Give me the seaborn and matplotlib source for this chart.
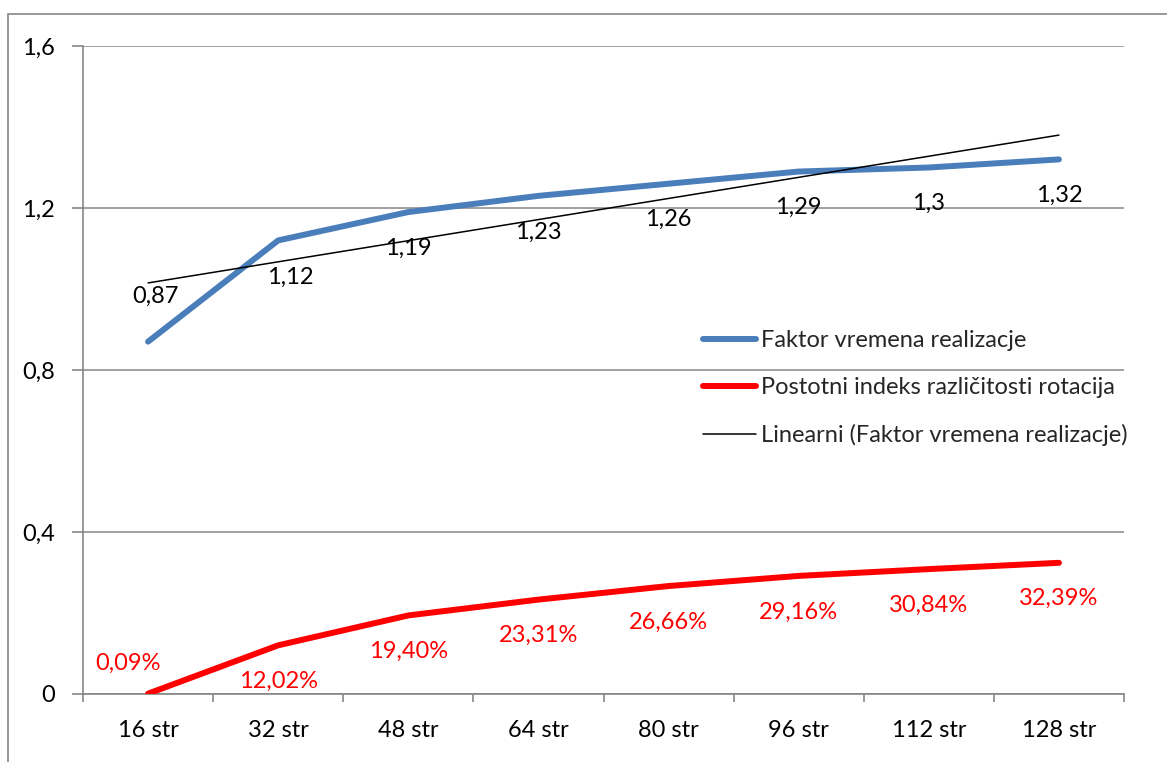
import numpy as np
import pandas as pd
import matplotlib
matplotlib.use("Agg")
import matplotlib.pyplot as plt
import seaborn as sns
from matplotlib.patches import Rectangle
from matplotlib.lines import Line2D

categories = ["16 str", "32 str", "48 str", "64 str", "80 str", "96 str", "112 str", "128 str"]
faktor = [0.87, 1.12, 1.19, 1.23, 1.26, 1.29, 1.30, 1.32]
faktor_labels = ["0,87", "1,12", "1,19", "1,23", "1,26", "1,29", "1,3", "1,32"]
indeks = [0.0009, 0.1202, 0.1940, 0.2331, 0.2666, 0.2916, 0.3084, 0.3239]
indeks_labels = ["0,09%", "12,02%", "19,40%", "23,31%", "26,66%", "29,16%", "30,84%", "32,39%"]
y_ticks = [0, 0.4, 0.8, 1.2, 1.6]
y_tick_labels = ["0", "0,4", "0,8", "1,2", "1,6"]
legend_labels = ["Faktor vremena realizacje", "Postotni indeks različitosti rotacija",
                 "Linearni (Faktor vremena realizacje)"]

sns.set_theme(style="white")
plt.rcParams['font.family'] = ['Lato', 'DejaVu Sans']

BLUE = "#4A7EBB"
RED = "#FF0000"
GRAY = "#868686"
FS = 17

fig = plt.figure(figsize=(11.67, 7.62), dpi=100)
fig.patch.set_facecolor("white")
W, H = 1167, 762
ax = fig.add_axes([83 / W, 1 - 694 / H, (1124 - 83) / W, (694 - 46) / H])

x = np.arange(len(categories))
df = pd.DataFrame({"x": x, "faktor": faktor, "indeks": indeks})

sns.lineplot(data=df, x="x", y="faktor", ax=ax, color=BLUE, linewidth=4.3,
             solid_capstyle="round", zorder=3)
sns.lineplot(data=df, x="x", y="indeks", ax=ax, color=RED, linewidth=4.3,
             solid_capstyle="round", zorder=3)

# Linear trendline
coef = np.polyfit(x + 1, faktor, 1)
trend = np.polyval(coef, x + 1)
sns.lineplot(x=[x[0], x[-1]], y=[trend[0], trend[-1]], ax=ax, color="black",
             linewidth=1.1, zorder=4)

# data labels
for i, (v, lab) in enumerate(zip(faktor, faktor_labels)):
    if i == 0:
        off = (7, 45)
    elif i == 1:
        off = (12, -37)
    else:
        off = (0, -36)
    ax.annotate(lab, (x[i], v), xytext=off, textcoords="offset pixels",
                ha="center", va="center", fontsize=FS, color="black", zorder=5)
for i, (v, lab) in enumerate(zip(indeks, indeks_labels)):
    off = (-20, 30) if i == 0 else (0, -36)
    ax.annotate(lab, (x[i], v), xytext=off, textcoords="offset pixels",
                ha="center", va="center", fontsize=FS, color=RED, zorder=5)

ax.set_xlim(-0.5, len(categories) - 0.5)
ax.set_ylim(0, 1.6)
ax.set_yticks(y_ticks)
ax.set_yticklabels(y_tick_labels, fontsize=FS, color="black")
ax.set_xticks(x)
ax.set_xticklabels(categories, fontsize=FS, color="black")
ax.set_xticks(np.arange(-0.5, len(categories), 1.0), minor=True)
ax.tick_params(axis="x", which="major", length=0, pad=19)
ax.tick_params(axis="x", which="minor", length=6, width=1.2, color=GRAY, direction="out", bottom=True)
ax.tick_params(axis="y", which="major", length=8, width=1.2, color=GRAY, direction="out", left=True, pad=12)
ax.set_xlabel("")
ax.set_ylabel("")
ax.grid(axis="y", color=GRAY, linewidth=1.1, zorder=0)
ax.set_axisbelow(True)
for s in ["top", "right"]:
    ax.spines[s].set_visible(False)
for s in ["left", "bottom"]:
    ax.spines[s].set_color(GRAY)
    ax.spines[s].set_linewidth(1.2)

handles = [Line2D([], [], color=BLUE, linewidth=4.3, solid_capstyle="round"),
           Line2D([], [], color=RED, linewidth=4.3, solid_capstyle="round"),
           Line2D([], [], color="black", linewidth=1.1)]
fig.legend(handles, legend_labels, loc="upper left",
           bbox_to_anchor=(703 / W, 1 - 330 / H), bbox_transform=fig.transFigure,
           frameon=False, fontsize=FS, handlelength=2.25, handletextpad=0.22,
           labelspacing=1.1, borderpad=0, borderaxespad=0)

# chart area border
fig.add_artist(Rectangle((7.5 / W, -0.1), 1.2, 1.1 - 13.5 / H, transform=fig.transFigure,
                         fill=False, edgecolor=GRAY, linewidth=1.2))

fig.savefig("out.png", dpi=100, facecolor="white")
